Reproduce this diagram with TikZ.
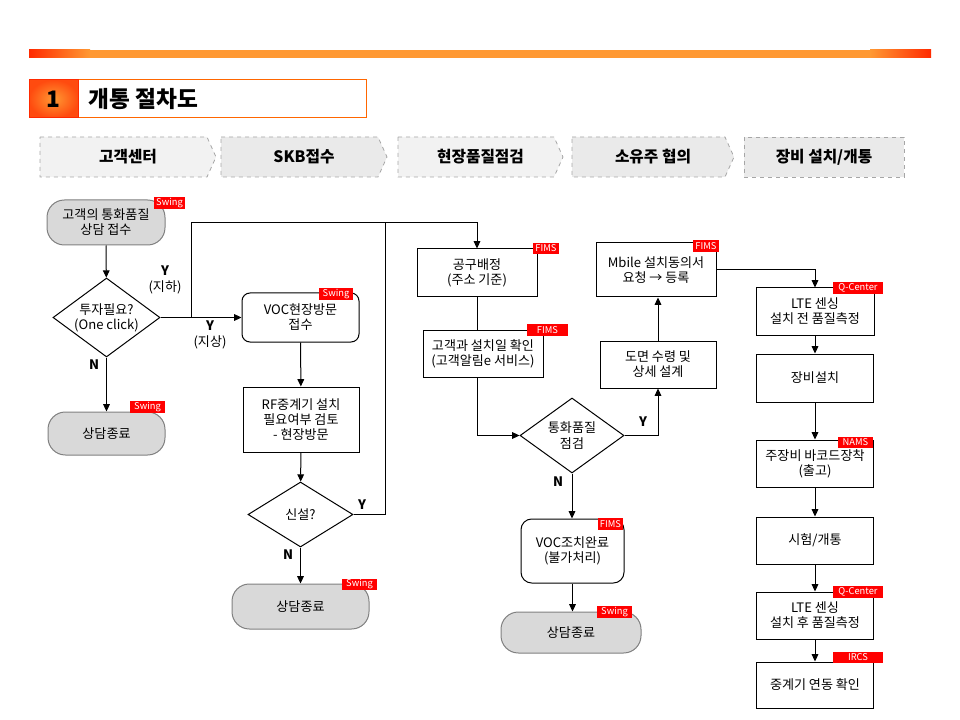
\documentclass[tikz,border=0pt]{standalone}
\usepackage{fontspec}
\setmainfont{Noto Sans CJK KR}
\usepackage{tikz}
\usetikzlibrary{shapes.geometric, calc, positioning}
\usetikzlibrary{arrows.meta}
\tikzset{>={Triangle[length=5.5pt,width=5pt]}}
\definecolor{barred}{HTML}{FF2A00}
\definecolor{barorange}{HTML}{FF9933}
\definecolor{tagred}{HTML}{FF0000}
\definecolor{endgray}{HTML}{D9D9D9}
\definecolor{hdrgray}{HTML}{F2F2F2}
\definecolor{hdrgrayb}{HTML}{EAEAEA}
\definecolor{titleorange}{HTML}{FF6600}

\tikzset{
  box/.style={draw, line width=0.75pt, align=center, font=\fontsize{9.8}{11.4}\selectfont, inner sep=1pt},
  rbox/.style={box, rounded corners=6pt},
  endbox/.style={box, draw=gray, fill=endgray, rounded corners=13pt},
  decide/.style={box, diamond, aspect=1.4, inner sep=0pt},
  tag/.style={fill=tagred, text=white, font=\fontsize{7}{7}\selectfont, inner sep=0pt, minimum height=8.5pt},
  yn/.style={font=\bfseries\fontsize{9.8}{11.4}\selectfont, align=center},
  hdr/.style={draw=gray!70, dashed, line width=0.6pt},
  hdrtext/.style={font=\bfseries\fontsize{11.8}{13}\selectfont},
  flow/.style={->, line width=0.75pt},
  link/.style={line width=0.75pt}
}

\begin{document}
\begin{tikzpicture}[x=0.75pt,y=-0.75pt]
  \useasboundingbox (0,0) rectangle (960,720);
  % top bar
  \fill[left color=barred, right color=barorange] (29,50) rectangle (90,58);
  \fill[barorange] (90,50) rectangle (870,58);
  \fill[left color=barorange, right color=barred] (870,50) rectangle (931,58);
  % title
  \draw[draw=titleorange, fill=white, line width=0.75pt] (78,80) rectangle (366,118);
  \draw[draw=barred, inner color=barorange, outer color=barred!70!barorange, line width=0.75pt] (29,80) rectangle (78,118);
  \node[font=\bfseries\fontsize{17}{19}\selectfont] (num) at (53,99) {1};
  \node[font=\bfseries\fontsize{17}{19}\selectfont, anchor=west] (title) at (84,99) {개통 절차도};

  % phase headers
  \draw[hdr, fill=hdrgray] (40,137) -- (207,137) -- (216,157) -- (207,177) -- (40,177) -- cycle;
  \node[hdrtext] (hcenter) at (128,157) {고객센터};
  \draw[hdr, fill=hdrgrayb] (221,137) -- (378,137) -- (387,157) -- (378,177) -- (221,177) -- cycle;
  \node[hdrtext] (hskb) at (304,157) {SKB접수};
  \draw[hdr, fill=hdrgray] (398,137) -- (554,137) -- (563,157) -- (554,177) -- (398,177) -- cycle;
  \node[hdrtext] (hfield) at (480.5,157) {현장품질점검};
  \draw[hdr, fill=hdrgrayb] (572,137) -- (725,137) -- (734,157) -- (725,177) -- (572,177) -- cycle;
  \node[hdrtext] (howner) at (653,157) {소유주 협의};
  \draw[hdr, fill=hdrgrayb] (744,137) rectangle (904,177);
  \node[hdrtext] (hequip) at (824,157) {장비 설치/개통};

  % customer center column
  \node[endbox, minimum width=88.5pt, minimum height=33.75pt] (cust) at (106,222.5) {고객의 통화품질\\상담 접수};
  \node[decide, minimum width=80.25pt, minimum height=59.25pt] (invest) at (106.5,317.5) {투자필요?\\(One click)};
  \node[endbox, minimum width=87.75pt, minimum height=32.25pt] (endcust) at (106.5,433.5) {상담종료};

  % SKB column
  \node[rbox, minimum width=87.75pt, minimum height=36.75pt] (voc) at (300.5,317.5) {VOC현장방문\\접수};
  \node[box, minimum width=87pt, minimum height=48.75pt] (rf) at (301,419.5) {RF중계기 설치\\필요여부 검토\\- 현장방문};
  \node[decide, minimum width=78.75pt, minimum height=48.75pt] (new) at (300.5,514.5) {신설?};
  \node[endbox, minimum width=102.75pt, minimum height=33.75pt] (endskb) at (300.5,606.5) {상담종료};

  % field check column
  \node[box, minimum width=90pt, minimum height=36pt] (tool) at (477,273) {공구배정\\(주소 기준)};
  \node[box, minimum width=90pt, minimum height=35.25pt] (date) at (483,353.5) {고객과 설치일 확인\\(고객알림e 서비스)};
  \node[decide, minimum width=78pt, minimum height=56.25pt] (quality) at (572,435.5) {통화품질\\점검};
  \node[rbox, rounded corners=8pt, minimum width=77.25pt, minimum height=48pt] (vocdone) at (572.5,551) {VOC조치완료\\(불가처리)};
  \node[endbox, minimum width=105pt, minimum height=30.75pt] (endfield) at (571,632.5) {상담종료};

  % owner column
  \node[box, minimum width=87pt, minimum height=35.25pt] (drawing) at (658,364.5) {도면 수령 및\\상세 설계};
  \node[box, minimum width=90pt, minimum height=40.5pt] (mbile) at (656,270) {Mbile 설치동의서\\요청 → 등록};

  % equipment column
  \node[box, minimum width=88.5pt, minimum height=35.25pt] (ltepre) at (815,311.5) {LTE 센싱\\설치 전 품질측정};
  \node[box, minimum width=87.75pt, minimum height=36pt] (install) at (815,378) {장비설치};
  \node[box, minimum width=87.75pt, minimum height=35.25pt] (barcode) at (815,463.5) {주장비 바코드장착\\(출고)};
  \node[box, minimum width=87.75pt, minimum height=35.25pt] (test) at (815,540.5) {시험/개통};
  \node[box, minimum width=87.75pt, minimum height=35.25pt] (ltepost) at (815,615.5) {LTE 센싱\\설치 후 품질측정};
  \node[box, minimum width=87.75pt, minimum height=34.5pt] (relay) at (815,685) {중계기 연동 확인};

  % system tags
  \node[tag, minimum width=23.25pt] (tgcust) at (169.5,203) {Swing};
  \node[tag, minimum width=26.25pt] (tgendcust) at (147.5,407) {Swing};
  \node[tag, minimum width=25.5pt] (tgvoc) at (336,294) {Swing};
  \node[tag, minimum width=26.25pt] (tgendskb) at (359.5,584.5) {Swing};
  \node[tag, minimum width=19.5pt] (tgtool) at (546,248.5) {FIMS};
  \node[tag, minimum width=30.75pt] (tgdate) at (547.5,330) {FIMS};
  \node[tag, minimum width=19.5pt] (tgmbile) at (706,246) {FIMS};
  \node[tag, minimum width=18.75pt] (tgvocdone) at (610.5,524) {FIMS};
  \node[tag, minimum width=26.25pt] (tgendfield) at (614.5,612) {Swing};
  \node[tag, minimum width=37.5pt] (tgltepre) at (858,288) {Q-Center};
  \node[tag, minimum width=26.25pt] (tgbarcode) at (855.5,442.5) {NAMS};
  \node[tag, minimum width=37.5pt] (tgltepost) at (858,592) {Q-Center};
  \node[tag, minimum width=37.5pt] (tgrelay) at (858,657.5) {IRCS};

  % branch labels
  \node[yn] (ybelow) at (165,280) {Y\\\mdseries(지하)};
  \node[yn] (yabove) at (210,335) {Y\\\mdseries(지상)};
  \node[yn] (ninvest) at (94,365) {N};
  \node[yn] (ynew) at (362,505) {Y};
  \node[yn] (nnew) at (288,555) {N};
  \node[yn] (yquality) at (643,422) {Y};
  \node[yn] (nquality) at (558,482) {N};

  % connectors
  \coordinate (up) at (191,223);
  \coordinate (join) at (385,223);
  \draw[flow] (cust) -- (invest);
  \draw[flow] (invest) -- (endcust);
  \draw[flow] (invest.east) -- (voc.west);
  \draw[flow] (up |- invest.east) -- (up) -| (tool.north);
  \draw[flow] (voc) -- (rf);
  \draw[flow] (rf) -- (new);
  \draw[flow] (new) -- (endskb);
  \draw[link] (new.east) -| (join);
  \draw[link] (tool.south) -- (tool.south |- date.north);
  \draw[flow] (tool.south |- date.south) |- (quality.west);
  \draw[flow] (quality.east) -| (drawing.south);
  \draw[flow] (drawing.north) -- (drawing.north |- mbile.south);
  \draw[flow] (mbile.east) -| (ltepre.north);
  \draw[flow] (quality.south) -- (quality.south |- vocdone.north);
  \draw[flow] (vocdone.south) -- (vocdone.south |- endfield.north);
  \draw[flow] (ltepre) -- (install);
  \draw[flow] (install) -- (barcode);
  \draw[flow] (barcode) -- (test);
  \draw[flow] (test) -- (ltepost);
  \draw[flow] (ltepost) -- (relay);
\end{tikzpicture}
\end{document}
